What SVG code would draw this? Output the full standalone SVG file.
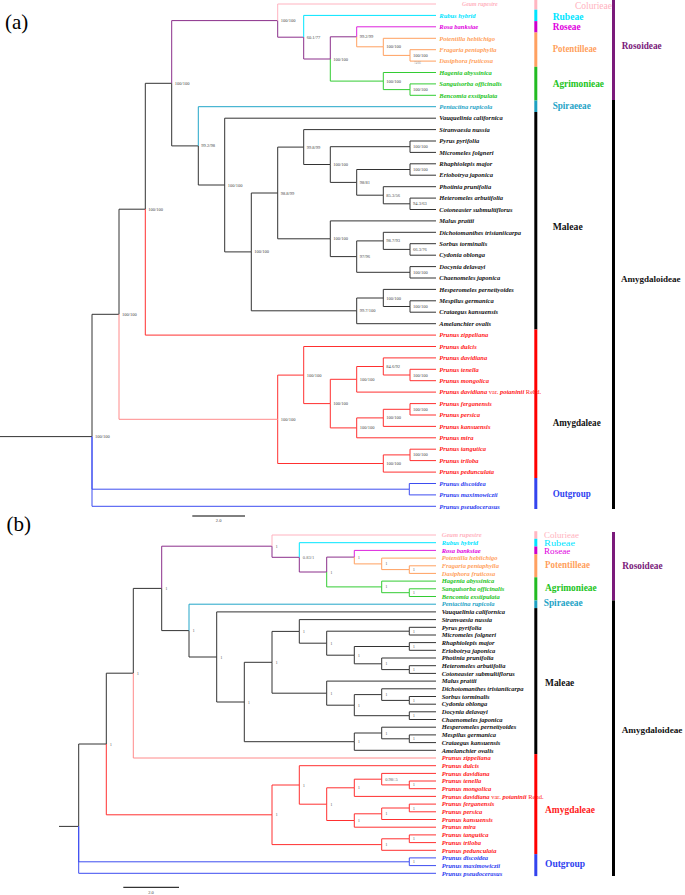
<svg xmlns="http://www.w3.org/2000/svg" width="685" height="895" viewBox="0 0 685 895">
<style>
.e{fill:none;stroke-width:1}
.k{stroke:#333}
.p{stroke:#8b2f8b}
.pk{stroke:#ffb3c0}
.c{stroke:#00e5ff}
.m{stroke:#dd22dd}
.o{stroke:#ffa060}
.g{stroke:#33cc33}
.t{stroke:#22a5c8}
.r{stroke:#ff3030}
.lr{stroke:#ff8a8a}
.b{stroke:#3d4df0}
.tp{font-family:"Liberation Serif","Times New Roman",serif;font-style:italic;font-weight:bold;font-size:6.5px}
.bs{font-family:"Liberation Serif","Times New Roman",serif;font-size:4.5px;fill:#444}
.cl{font-family:"Liberation Serif","Times New Roman",serif;font-weight:bold;font-size:11px}
.cn{font-family:"Liberation Serif","Times New Roman",serif;font-size:8.5px}
.fpk{fill:#ffb3c0}.fc{fill:#00e5ff}.fm{fill:#e000e0}.fo{fill:#ff9f5c}.fg{fill:#22c422}.ft{fill:#1ea3c6}.fk{fill:#111}.fr{fill:#ff1a1a}.fb{fill:#2f3ff0}.fp{fill:#7a1a7a}
.nr{font-style:normal;font-weight:normal}
</style>
<rect width="685" height="895" fill="#fff"/>

<!-- ================= PANEL A ================= -->
<g id="panel-a">
<text x="5" y="29" font-family="Liberation Serif, serif" font-size="21" fill="#000">(a)</text>
<g id="connectors-a">
<path class="e k" d="M0 436.6H92M92 436.6V314.3H119M119 314.3V209.2H145.3M145.3 209.2V83.3H171.7M171.7 83.3V145.9H198.3M198.3 145.9V185H224.7M224.7 185V118.2H436M224.7 185V251.9H251.3M251.3 251.9V193H277.7M251.3 251.9V310.8H356.7M277.7 193V147.1H303.7M277.7 193V238.8H330.3M303.7 147.1V129.6H436M303.7 147.1V164.5H330.3M330.3 164.5V146.7H410M330.3 164.5V182.4H356.7M410 146.7V141H436M410 146.7V152.4H436M356.7 182.4V169.5H410M356.7 182.4V195.2H383.3M410 169.5V163.8H436M410 169.5V175.2H436M383.3 195.2V186.7H436M383.3 195.2V203.8H410M410 203.8V198.1H436M410 203.8V209.5H436M330.3 238.8V220.9H436M330.3 238.8V256.6H356.7M356.7 256.6V240.9H383.3M356.7 256.6V272.3H410M383.3 240.9V232.3H436M383.3 240.9V249.4H410M410 249.4V243.7H436M410 249.4V255.2H436M410 272.3V266.6H436M410 272.3V278H436M356.7 310.8V298H383.3M356.7 310.8V323.7H436M383.3 298V289.4H436M383.3 298V306.5H410M410 306.5V300.8H436M410 306.5V312.2H436"/>
<path class="e p" d="M171.7 83.3V20.6H277.7M277.7 20.6V37.2H303.7M303.7 37.2V59H330.3M330.3 59V36.8H356.7"/>
<path class="e pk" d="M277.7 20.6V4H436"/>
<path class="e c" d="M303.7 37.2V15.4H436"/>
<path class="e m" d="M356.7 36.8V26.8H436"/>
<path class="e o" d="M356.7 36.8V46.8H383.3M383.3 46.8V38.3H436M383.3 46.8V55.4H410M410 55.4V49.7H436M410 55.4V61.1H436"/>
<path class="e g" d="M330.3 59V81.1H383.3M383.3 81.1V72.5H436M383.3 81.1V89.6H410M410 89.6V83.9H436M410 89.6V95.3H436"/>
<path class="e t" d="M198.3 145.9V106.7H436"/>
<path class="e r" d="M145.3 209.2V335.1H436M277.7 419.3V375.1H303.7M277.7 419.3V463.5H383.3M303.7 375.1V346.5H436M303.7 375.1V403.6H330.3M330.3 403.6V379.3H356.7M330.3 403.6V427.9H356.7M356.7 379.3V366.5H383.3M356.7 379.3V392.1H436M383.3 366.5V357.9H436M383.3 366.5V375H410M410 375V369.3H436M410 375V380.7H436M356.7 427.9V417.9H383.3M356.7 427.9V437.8H436M383.3 417.9V409.3H410M383.3 417.9V426.4H436M410 409.3V403.6H436M410 409.3V415H436M383.3 463.5V454.9H410M383.3 463.5V472.1H436M410 454.9V449.2H436M410 454.9V460.6H436"/>
<path class="e lr" d="M119 314.3V419.3H277.7"/>
<path class="e b" d="M92 436.6V489.2H409.3M92 436.6V506.3H436M409.3 489.2V483.5H436M409.3 489.2V494.9H436"/>
</g>
<g id="support-a" class="bs">
<text x="280.7" y="22.1">100/100</text>
<text x="306.7" y="38.7">60.1/77</text>
<text x="333.3" y="60.5">100/100</text>
<text x="359.7" y="38.3">99.2/99</text>
<text x="386.3" y="48.3">100/100</text>
<text x="413" y="56.9">100/100</text>
<text x="414" y="64.2" style="font-size:3px;fill:#999">74/66</text>
<text x="386.3" y="82.6">100/100</text>
<text x="413" y="91.1">100/100</text>
<text x="174.7" y="84.8">100/100</text>
<text x="201.3" y="147.4">99.2/98</text>
<text x="227.7" y="186.5">100/100</text>
<text x="254.3" y="253.4">100/100</text>
<text x="280.7" y="194.5">98.8/99</text>
<text x="306.7" y="148.6">99.8/99</text>
<text x="333.3" y="166">100/100</text>
<text x="413" y="148.2">100/100</text>
<text x="359.7" y="183.9">98/81</text>
<text x="413" y="171">100/100</text>
<text x="386.3" y="196.7">85.3/56</text>
<text x="413" y="205.3">94.3/63</text>
<text x="333.3" y="240.3">100/100</text>
<text x="359.7" y="258.1">97/96</text>
<text x="386.3" y="242.4">98.7/93</text>
<text x="413" y="250.9">66.3/76</text>
<text x="413" y="273.8">100/100</text>
<text x="359.7" y="312.3">99.7/100</text>
<text x="386.3" y="299.5">100/100</text>
<text x="413" y="308">100/100</text>
<text x="148.3" y="210.7">100/100</text>
<text x="122" y="315.8">100/100</text>
<text x="95" y="438.1">100/100</text>
<text x="280.7" y="420.8">100/100</text>
<text x="306.7" y="376.6">100/100</text>
<text x="333.3" y="405.1">100/100</text>
<text x="359.7" y="380.8">100/100</text>
<text x="386.3" y="368">84.6/92</text>
<text x="413" y="376.5">100/100</text>
<text x="359.7" y="429.4">100/100</text>
<text x="386.3" y="419.4">100/100</text>
<text x="413" y="410.8">100/100</text>
<text x="386.3" y="465">100/100</text>
<text x="413" y="456.4">100/100</text>
</g>
<g id="scale-a">
<path d="M192.3 516H245" stroke="#000" stroke-width="1"/>
<text x="218.6" y="522" class="bs" text-anchor="middle">2.0</text>
</g>
<g id="tips-a">
<g id="a-geum"><text class="tp fpk" x="462" y="6" style="font-size:5.8px">Geum rupestre</text></g>
<g id="a-rubus"><text class="tp fc" x="439.3" y="17.6">Rubus hybrid</text></g>
<g id="a-rosa"><text class="tp fm" x="439.3" y="29">Rosa banksiae</text></g>
<g id="a-potentilla"><text class="tp fo" x="439.3" y="40.5">Potentilla hebiichigo</text></g>
<g id="a-fragaria"><text class="tp fo" x="439.3" y="51.9">Fragaria pentaphylla</text></g>
<g id="a-dasiphora"><text class="tp fo" x="439.3" y="63.3">Dasiphora fruticosa</text></g>
<g id="a-hagenia"><text class="tp fg" x="439.3" y="74.7">Hagenia abyssinica</text></g>
<g id="a-sanguisorba"><text class="tp fg" x="439.3" y="86.1">Sanguisorba officinalis</text></g>
<g id="a-bencomia"><text class="tp fg" x="439.3" y="97.5">Bencomia exstipulata</text></g>
<g id="a-pentactina"><text class="tp ft" x="439.3" y="108.9">Pentactina rupicola</text></g>
<g id="a-vauquelinia"><text class="tp fk" x="439.3" y="120.4">Vauquelinia californica</text></g>
<g id="a-stranvaesia"><text class="tp fk" x="439.3" y="131.8">Stranvaesia nussia</text></g>
<g id="a-pyrus"><text class="tp fk" x="439.3" y="143.2">Pyrus pyrifolia</text></g>
<g id="a-micromeles"><text class="tp fk" x="439.3" y="154.6">Micromeles folgneri</text></g>
<g id="a-rhaphiolepis"><text class="tp fk" x="439.3" y="166">Rhaphiolepis major</text></g>
<g id="a-eriobotrya"><text class="tp fk" x="439.3" y="177.4">Eriobotrya japonica</text></g>
<g id="a-photinia"><text class="tp fk" x="439.3" y="188.9">Photinia prunifolia</text></g>
<g id="a-heteromeles"><text class="tp fk" x="439.3" y="200.3">Heteromeles arbutifolia</text></g>
<g id="a-cotoneaster"><text class="tp fk" x="439.3" y="211.7">Cotoneaster submultiflorus</text></g>
<g id="a-malus"><text class="tp fk" x="439.3" y="223.1">Malus prattii</text></g>
<g id="a-dichotomanthes"><text class="tp fk" x="439.3" y="234.5">Dichotomanthes tristaniicarpa</text></g>
<g id="a-sorbus"><text class="tp fk" x="439.3" y="245.9">Sorbus torminalis</text></g>
<g id="a-cydonia"><text class="tp fk" x="439.3" y="257.4">Cydonia oblonga</text></g>
<g id="a-docynia"><text class="tp fk" x="439.3" y="268.8">Docynia delavayi</text></g>
<g id="a-chaenomeles"><text class="tp fk" x="439.3" y="280.2">Chaenomeles japonica</text></g>
<g id="a-hesperomeles"><text class="tp fk" x="439.3" y="291.6">Hesperomeles pernettyoides</text></g>
<g id="a-mespilus"><text class="tp fk" x="439.3" y="303">Mespilus germanica</text></g>
<g id="a-crataegus"><text class="tp fk" x="439.3" y="314.4">Crataegus kansuensis</text></g>
<g id="a-amelanchier"><text class="tp fk" x="439.3" y="325.9">Amelanchier ovalis</text></g>
<g id="a-zippeliana"><text class="tp fr" x="439.3" y="337.3">Prunus zippeliana</text></g>
<g id="a-dulcis"><text class="tp fr" x="439.3" y="348.7">Prunus dulcis</text></g>
<g id="a-davidiana"><text class="tp fr" x="439.3" y="360.1">Prunus davidiana</text></g>
<g id="a-tenella"><text class="tp fr" x="439.3" y="371.5">Prunus tenella</text></g>
<g id="a-mongolica"><text class="tp fr" x="439.3" y="382.9">Prunus mongolica</text></g>
<g id="a-davidiana-var"><text class="tp fr" x="439.3" y="394.3">Prunus davidiana<tspan class="nr"> var. </tspan>potaninii<tspan class="nr"> Rehd.</tspan></text></g>
<g id="a-ferganensis"><text class="tp fr" x="439.3" y="405.8">Prunus ferganensis</text></g>
<g id="a-persica"><text class="tp fr" x="439.3" y="417.2">Prunus persica</text></g>
<g id="a-kansuensis"><text class="tp fr" x="439.3" y="428.6">Prunus kansuensis</text></g>
<g id="a-mira"><text class="tp fr" x="439.3" y="440">Prunus mira</text></g>
<g id="a-tangutica"><text class="tp fr" x="439.3" y="451.4">Prunus tangutica</text></g>
<g id="a-triloba"><text class="tp fr" x="439.3" y="462.8">Prunus triloba</text></g>
<g id="a-pedunculata"><text class="tp fr" x="439.3" y="474.3">Prunus pedunculata</text></g>
<g id="a-discoidea"><text class="tp fb" x="439.3" y="485.7">Prunus discoidea</text></g>
<g id="a-maximowiczii"><text class="tp fb" x="439.3" y="497.1">Prunus maximowiczii</text></g>
<g id="a-pseudocerasus"><text class="tp fb" x="439.3" y="508.5">Prunus pseudocerasus</text></g>
</g>
<g id="bars-a">
<rect x="534.3" y="0" width="3" height="9.7" fill="#ffb6c1"/>
<rect x="534.3" y="9.7" width="3" height="11.4" fill="#00e5ff"/>
<rect x="534.3" y="21.1" width="3" height="11.4" fill="#cc00cc"/>
<rect x="534.3" y="32.5" width="3" height="34.3" fill="#ffa060"/>
<rect x="534.3" y="66.8" width="3" height="33.7" fill="#22bb22"/>
<rect x="534.3" y="100.5" width="3" height="11.5" fill="#1ea0c0"/>
<rect x="534.3" y="112" width="3" height="217.5" fill="#000"/>
<rect x="534.3" y="329.5" width="3" height="148.5" fill="#ff0000"/>
<rect x="534.3" y="478" width="3" height="31" fill="#3344ee"/>
<rect x="612" y="0" width="3" height="100" fill="#7a1a7a"/>
<rect x="612" y="100" width="3" height="409" fill="#000"/>
</g>
<g id="a-colurieae"><text class="cn fpk" x="575" y="9.3" style="font-size:10px" textLength="37" lengthAdjust="spacingAndGlyphs">Colurieae</text></g>
<g id="a-rubeae"><text class="cl fc" x="552.7" y="19.5" textLength="30.7" lengthAdjust="spacingAndGlyphs">Rubeae</text></g>
<g id="a-roseae"><text class="cl fm" x="552.7" y="30" textLength="28" lengthAdjust="spacingAndGlyphs">Roseae</text></g>
<g id="a-potentilleae"><text class="cl fo" x="552.7" y="52" textLength="44" lengthAdjust="spacingAndGlyphs">Potentilleae</text></g>
<g id="a-agrimonieae"><text class="cl fg" x="552.7" y="87.3" textLength="51.3" lengthAdjust="spacingAndGlyphs">Agrimonieae</text></g>
<g id="a-spiraeeae"><text class="cl ft" x="552.7" y="108.8" textLength="38" lengthAdjust="spacingAndGlyphs">Spiraeeae</text></g>
<g id="a-rosoideae"><text class="cl fp" x="621.7" y="48.8" textLength="40" lengthAdjust="spacingAndGlyphs">Rosoideae</text></g>
<g id="a-maleae"><text class="cl fk" x="552.7" y="230.3" textLength="30" lengthAdjust="spacingAndGlyphs">Maleae</text></g>
<g id="a-amygdaloideae"><text class="cl fk" x="621" y="281.5" style="font-size:9px">Amygdaloideae</text></g>
<g id="a-amygdaleae"><text class="cl fk" x="552.7" y="425.5" textLength="48" lengthAdjust="spacingAndGlyphs">Amygdaleae</text></g>
<g id="a-outgroup"><text class="cl fb" x="552.7" y="497.3" textLength="38" lengthAdjust="spacingAndGlyphs">Outgroup</text></g>
</g>

<!-- ================= PANEL B ================= -->
<g id="panel-b">
<text x="6.5" y="531" font-family="Liberation Serif, serif" font-size="21" fill="#000">(b)</text>
<g id="connectors-b">
<path class="e k" d="M59 826.4H78.7M78.7 826.4V744H106.3M106.3 744V673.2H133.3M133.3 673.2V588.4H161.7M161.7 588.4V630.6H189M189 630.6V657H216.7M216.7 657V611.9H436M216.7 657V702H244.3M244.3 702V662.3H272M244.3 702V741.7H354.3M272 662.3V631.4H299.3M272 662.3V693.2H326.7M299.3 631.4V619.6H436M299.3 631.4V643.2H326.7M326.7 643.2V631.2H409.3M326.7 643.2V655.2H354.3M409.3 631.2V627.3H436M409.3 631.2V635H436M354.3 655.2V646.5H409.3M354.3 655.2V663.8H381.7M409.3 646.5V642.6H436M409.3 646.5V650.3H436M381.7 663.8V658H436M381.7 663.8V669.6H409.3M409.3 669.6V665.7H436M409.3 669.6V673.4H436M326.7 693.2V681.1H436M326.7 693.2V705.2H354.3M354.3 705.2V694.6H381.7M354.3 705.2V715.7H409.3M381.7 694.6V688.8H436M381.7 694.6V700.4H409.3M409.3 700.4V696.5H436M409.3 700.4V704.2H436M409.3 715.7V711.8H436M409.3 715.7V719.5H436M354.3 741.7V733H381.7M354.3 741.7V750.3H436M381.7 733V727.2H436M381.7 733V738.8H409.3M409.3 738.8V734.9H436M409.3 738.8V742.6H436"/>
<path class="e p" d="M161.7 588.4V546.2H272M272 546.2V557.3H299.3M299.3 557.3V572H326.7M326.7 572V557.1H354.3"/>
<path class="e pk" d="M272 546.2V535H436"/>
<path class="e c" d="M299.3 557.3V542.7H436"/>
<path class="e m" d="M354.3 557.1V550.4H436"/>
<path class="e o" d="M354.3 557.1V563.9H381.7M381.7 563.9V558.1H436M381.7 563.9V569.6H409.3M409.3 569.6V565.8H436M409.3 569.6V573.4H436"/>
<path class="e g" d="M326.7 572V586.9H381.7M381.7 586.9V581.1H436M381.7 586.9V592.7H409.3M409.3 592.7V588.8H436M409.3 592.7V596.5H436"/>
<path class="e t" d="M189 630.6V604.2H436"/>
<path class="e lr" d="M133.3 673.2V758H436"/>
<path class="e r" d="M106.3 744V814.8H272M272 814.8V785H299.3M272 814.8V844.6H381.7M299.3 785V765.7H436M299.3 785V804.2H326.7M326.7 804.2V787.8H354.3M326.7 804.2V820.5H354.3M354.3 787.8V779.2H381.7M354.3 787.8V796.4H436M381.7 779.2V773.4H436M381.7 779.2V784.9H409.3M409.3 784.9V781H436M409.3 784.9V788.7H436M354.3 820.5V813.8H381.7M354.3 820.5V827.2H436M381.7 813.8V808H409.3M381.7 813.8V819.5H436M409.3 808V804.1H436M409.3 808V811.8H436M381.7 844.6V838.8H409.3M381.7 844.6V850.3H436M409.3 838.8V834.9H436M409.3 838.8V842.6H436"/>
<path class="e b" d="M78.7 826.4V861.8H409.3M78.7 826.4V873.3H436M409.3 861.8V857.9H436M409.3 861.8V865.6H436"/>
</g>
<g id="support-b" class="bs" style="fill:#666">
<text x="275.5" y="547.7">1</text>
<text x="302.8" y="558.8">0.83/1</text>
<text x="330.2" y="573.5">1</text>
<text x="357.8" y="558.6">1</text>
<text x="385.2" y="565.4">1</text>
<text x="412.8" y="571.1">1</text>
<text x="385.2" y="588.4">1</text>
<text x="412.8" y="594.2">1</text>
<text x="165.2" y="589.9">1</text>
<text x="192.5" y="632.1">1</text>
<text x="220.2" y="658.5">1</text>
<text x="247.8" y="703.5">1</text>
<text x="275.5" y="663.8">1</text>
<text x="302.8" y="632.9">1</text>
<text x="330.2" y="644.7">1</text>
<text x="412.8" y="632.7">1</text>
<text x="357.8" y="656.7">1</text>
<text x="412.8" y="648">1</text>
<text x="385.2" y="665.3">1</text>
<text x="412.8" y="671.1">1</text>
<text x="330.2" y="694.7">1</text>
<text x="357.8" y="706.7">1</text>
<text x="385.2" y="696.1">1</text>
<text x="412.8" y="701.9">1</text>
<text x="412.8" y="717.2">1</text>
<text x="357.8" y="743.2">1</text>
<text x="385.2" y="734.5">1</text>
<text x="412.8" y="740.3">1</text>
<text x="136.8" y="674.7">1</text>
<text x="109.8" y="745.5">1</text>
<text x="275.5" y="816.3">1</text>
<text x="302.8" y="786.5">1</text>
<text x="330.2" y="805.7">1</text>
<text x="357.8" y="789.3">1</text>
<text x="385.2" y="780.7">0.98/.5</text>
<text x="412.8" y="786.4">1</text>
<text x="357.8" y="822">1</text>
<text x="385.2" y="815.3">1</text>
<text x="412.8" y="809.5">1</text>
<text x="385.2" y="846.1">1</text>
<text x="412.8" y="840.3">1</text>
<text x="412.8" y="863.3">1</text>
</g>
<g id="scale-b">
<path d="M123.3 887.3H179" stroke="#000" stroke-width="1"/>
<text x="151" y="893.5" class="bs" text-anchor="middle">2.0</text>
</g>
<g id="tips-b">
<g id="b-geum"><text class="tp fpk" x="441.7" y="537.2">Geum rupestre</text></g>
<g id="b-rubus"><text class="tp fc" x="441.7" y="544.9">Rubus hybrid</text></g>
<g id="b-rosa"><text class="tp fm" x="441.7" y="552.6">Rosa banksiae</text></g>
<g id="b-potentilla"><text class="tp fo" x="441.7" y="560.3">Potentilla hebiichigo</text></g>
<g id="b-fragaria"><text class="tp fo" x="441.7" y="568">Fragaria pentaphylla</text></g>
<g id="b-dasiphora"><text class="tp fo" x="441.7" y="575.6">Dasiphora fruticosa</text></g>
<g id="b-hagenia"><text class="tp fg" x="441.7" y="583.3">Hagenia abyssinica</text></g>
<g id="b-sanguisorba"><text class="tp fg" x="441.7" y="591">Sanguisorba officinalis</text></g>
<g id="b-bencomia"><text class="tp fg" x="441.7" y="598.7">Bencomia exstipulata</text></g>
<g id="b-pentactina"><text class="tp ft" x="441.7" y="606.4">Pentactina rupicola</text></g>
<g id="b-vauquelinia"><text class="tp fk" x="441.7" y="614.1">Vauquelinia californica</text></g>
<g id="b-stranvaesia"><text class="tp fk" x="441.7" y="621.8">Stranvaesia nussia</text></g>
<g id="b-pyrus"><text class="tp fk" x="441.7" y="629.5">Pyrus pyrifolia</text></g>
<g id="b-micromeles"><text class="tp fk" x="441.7" y="637.2">Micromeles folgneri</text></g>
<g id="b-rhaphiolepis"><text class="tp fk" x="441.7" y="644.8">Rhaphiolepis major</text></g>
<g id="b-eriobotrya"><text class="tp fk" x="441.7" y="652.5">Eriobotrya japonica</text></g>
<g id="b-photinia"><text class="tp fk" x="441.7" y="660.2">Photinia prunifolia</text></g>
<g id="b-heteromeles"><text class="tp fk" x="441.7" y="667.9">Heteromeles arbutifolia</text></g>
<g id="b-cotoneaster"><text class="tp fk" x="441.7" y="675.6">Cotoneaster submultiflorus</text></g>
<g id="b-malus"><text class="tp fk" x="441.7" y="683.3">Malus prattii</text></g>
<g id="b-dichotomanthes"><text class="tp fk" x="441.7" y="691">Dichotomanthes tristaniicarpa</text></g>
<g id="b-sorbus"><text class="tp fk" x="441.7" y="698.7">Sorbus torminalis</text></g>
<g id="b-cydonia"><text class="tp fk" x="441.7" y="706.4">Cydonia oblonga</text></g>
<g id="b-docynia"><text class="tp fk" x="441.7" y="714">Docynia delavayi</text></g>
<g id="b-chaenomeles"><text class="tp fk" x="441.7" y="721.7">Chaenomeles japonica</text></g>
<g id="b-hesperomeles"><text class="tp fk" x="441.7" y="729.4">Hesperomeles pernettyoides</text></g>
<g id="b-mespilus"><text class="tp fk" x="441.7" y="737.1">Mespilus germanica</text></g>
<g id="b-crataegus"><text class="tp fk" x="441.7" y="744.8">Crataegus kansuensis</text></g>
<g id="b-amelanchier"><text class="tp fk" x="441.7" y="752.5">Amelanchier ovalis</text></g>
<g id="b-zippeliana"><text class="tp fr" x="441.7" y="760.2">Prunus zippeliana</text></g>
<g id="b-dulcis"><text class="tp fr" x="441.7" y="767.9">Prunus dulcis</text></g>
<g id="b-davidiana"><text class="tp fr" x="441.7" y="775.6">Prunus davidiana</text></g>
<g id="b-tenella"><text class="tp fr" x="441.7" y="783.2">Prunus tenella</text></g>
<g id="b-mongolica"><text class="tp fr" x="441.7" y="790.9">Prunus mongolica</text></g>
<g id="b-davidiana-var"><text class="tp fr" x="441.7" y="798.6">Prunus davidiana<tspan class="nr"> var. </tspan>potaninii<tspan class="nr"> Rehd.</tspan></text></g>
<g id="b-ferganensis"><text class="tp fr" x="441.7" y="806.3">Prunus ferganensis</text></g>
<g id="b-persica"><text class="tp fr" x="441.7" y="814">Prunus persica</text></g>
<g id="b-kansuensis"><text class="tp fr" x="441.7" y="821.7">Prunus kansuensis</text></g>
<g id="b-mira"><text class="tp fr" x="441.7" y="829.4">Prunus mira</text></g>
<g id="b-tangutica"><text class="tp fr" x="441.7" y="837.1">Prunus tangutica</text></g>
<g id="b-triloba"><text class="tp fr" x="441.7" y="844.8">Prunus triloba</text></g>
<g id="b-pedunculata"><text class="tp fr" x="441.7" y="852.5">Prunus pedunculata</text></g>
<g id="b-discoidea"><text class="tp fb" x="441.7" y="860.1">Prunus discoidea</text></g>
<g id="b-maximowiczii"><text class="tp fb" x="441.7" y="867.8">Prunus maximowiczii</text></g>
<g id="b-pseudocerasus"><text class="tp fb" x="441.7" y="875.5">Prunus pseudocerasus</text></g>
</g>
<g id="bars-b">
<rect x="534.3" y="531.2" width="3" height="7.6" fill="#ffb6c1"/>
<rect x="534.3" y="538.8" width="3" height="7.7" fill="#00e5ff"/>
<rect x="534.3" y="546.5" width="3" height="7.7" fill="#cc00cc"/>
<rect x="534.3" y="554.2" width="3" height="23.1" fill="#ffa060"/>
<rect x="534.3" y="577.3" width="3" height="23.1" fill="#22bb22"/>
<rect x="534.3" y="600.4" width="3" height="7.7" fill="#1ea0c0"/>
<rect x="534.3" y="608.1" width="3" height="146" fill="#000"/>
<rect x="534.3" y="754.1" width="3" height="100" fill="#ff0000"/>
<rect x="534.3" y="854.1" width="3" height="22" fill="#3344ee"/>
<rect x="612" y="532" width="3" height="68.4" fill="#7a1a7a"/>
<rect x="612" y="600.4" width="3" height="275.6" fill="#000"/>
</g>
<g id="b-colurieae"><text class="cn fpk" x="544" y="537.6" textLength="35" lengthAdjust="spacingAndGlyphs">Colurieae</text></g>
<g id="b-rubeae"><text class="cn fc" x="544" y="545.5" textLength="31" lengthAdjust="spacingAndGlyphs">Rubeae</text></g>
<g id="b-roseae"><text class="cn fm" x="544" y="553.6" textLength="26.3" lengthAdjust="spacingAndGlyphs">Roseae</text></g>
<g id="b-potentilleae"><text class="cl fo" x="545" y="568" textLength="45" lengthAdjust="spacingAndGlyphs">Potentilleae</text></g>
<g id="b-agrimonieae"><text class="cl fg" x="545" y="590.5" textLength="51.7" lengthAdjust="spacingAndGlyphs">Agrimonieae</text></g>
<g id="b-spiraeeae"><text class="cl ft" x="543.7" y="606" textLength="39" lengthAdjust="spacingAndGlyphs">Spiraeeae</text></g>
<g id="b-rosoideae"><text class="cl fp" x="622.3" y="568.5" textLength="40.3" lengthAdjust="spacingAndGlyphs">Rosoideae</text></g>
<g id="b-maleae"><text class="cl fk" x="545" y="686" textLength="29.3" lengthAdjust="spacingAndGlyphs">Maleae</text></g>
<g id="b-amygdaloideae"><text class="cl fk" x="621.7" y="733.3" style="font-size:9.2px">Amygdaloideae</text></g>
<g id="b-amygdaleae"><text class="cl fr" x="545" y="813.3" textLength="50" lengthAdjust="spacingAndGlyphs">Amygdaleae</text></g>
<g id="b-outgroup"><text class="cl fb" x="545" y="866.7" textLength="40" lengthAdjust="spacingAndGlyphs">Outgroup</text></g>
</g>
</svg>
